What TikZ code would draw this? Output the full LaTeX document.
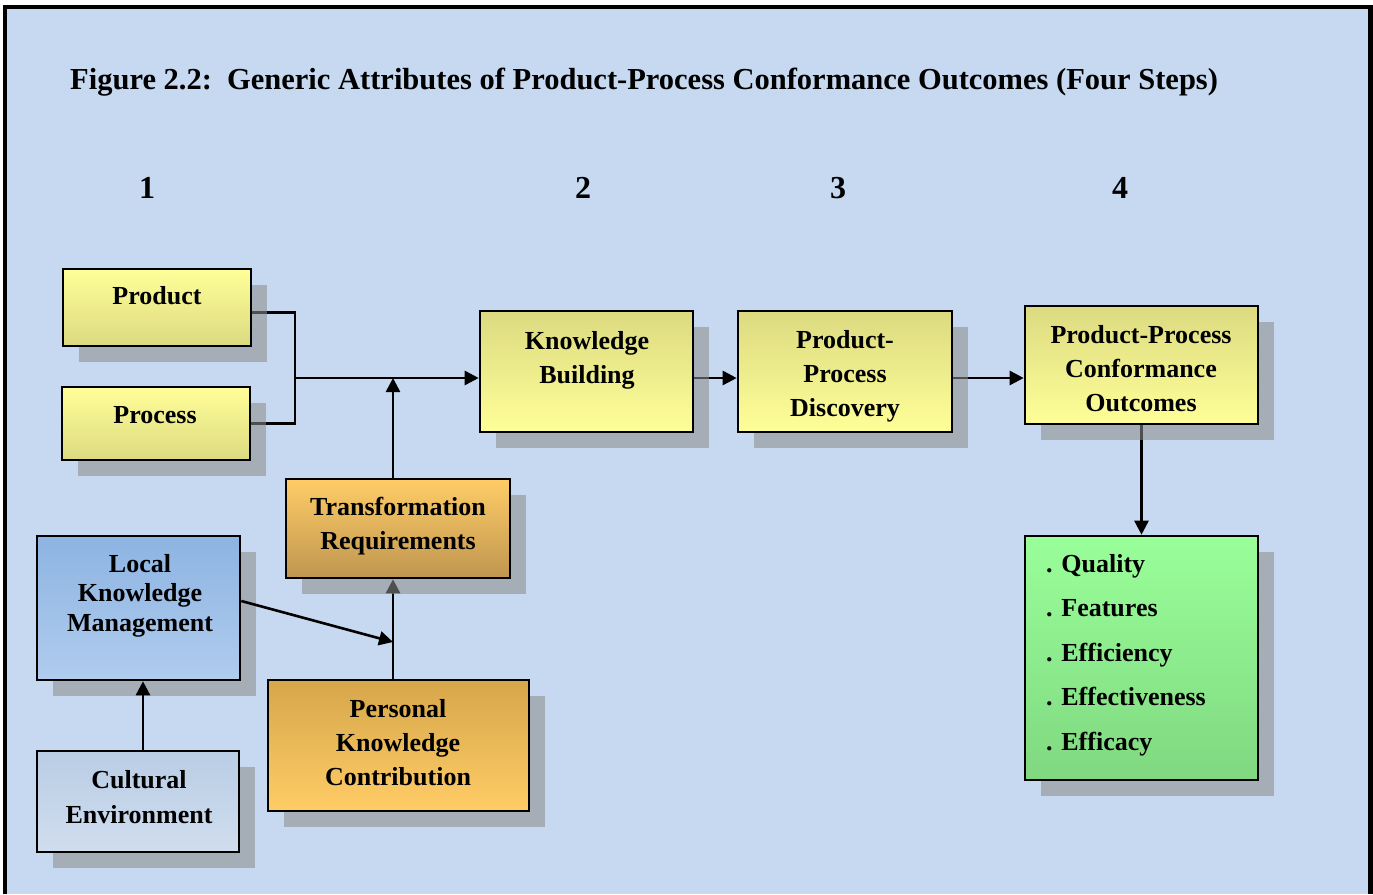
\documentclass[tikz,border=0pt]{standalone}
\usepackage{fontspec}
\setmainfont{Liberation Serif}
\usetikzlibrary{arrows.meta,shadows,fit}

\definecolor{panel}{RGB}{198,217,240}
\definecolor{shadowgray}{RGB}{140,140,140}
\definecolor{ylight}{RGB}{255,255,153}
\definecolor{ydark}{RGB}{220,218,128}
\definecolor{olight}{RGB}{255,204,102}
\definecolor{odarkA}{RGB}{191,150,80}
\definecolor{odarkB}{RGB}{214,166,74}
\definecolor{btop}{RGB}{141,180,226}
\definecolor{bbot}{RGB}{176,204,238}
\definecolor{ctop}{RGB}{185,205,229}
\definecolor{cbot}{RGB}{208,221,238}
\definecolor{gtop}{RGB}{153,255,153}
\definecolor{gbot}{RGB}{128,216,128}

\pgfdeclarelayer{bg}
\pgfdeclarelayer{edges}
\pgfsetlayers{bg,edges,main}

\tikzset{
  box/.style={draw=black, line width=2.6pt, inner sep=0pt, shading=axis,
    drop shadow={shadow xshift=16pt, shadow yshift=-16pt, fill=shadowgray, opacity=0.57}},
  yup/.style={box, top color=ylight, bottom color=ydark},
  ydown/.style={box, top color=ydark, bottom color=ylight},
  txt/.style={font=\bfseries\fontsize{26}{34}\selectfont, inner sep=0pt, anchor=base},
  num/.style={font=\bfseries\fontsize{32}{36}\selectfont, inner sep=0pt, anchor=base},
  link/.style={line width=2.6pt, -{Triangle[length=14pt,width=14pt]}},
  wire/.style={line width=2.6pt},
}

\begin{document}
\begin{tikzpicture}[x=1pt,y=-1pt]
\useasboundingbox (0,0) rectangle (1373,894);

% panel and frame
\begin{pgfonlayer}{bg}
  \fill[white] (0,0) rectangle (1373,894);
  \fill[panel] (5,7) rectangle (1370.5,894);
  \draw[line width=4.5pt] (5,894) -- (5,7) -- (1370.5,7) -- (1370.5,894);
\end{pgfonlayer}

% heading and step numbers
\node[anchor=base west, inner sep=0pt, font=\bfseries\fontsize{30.5}{34}\selectfont] (title) at (70,89)
  {Figure 2.2:\ \ Generic Attributes of Product-Process Conformance Outcomes (Four Steps)};
\node[num] (n1) at (147,198) {1};
\node[num] (n2) at (583,198) {2};
\node[num] (n3) at (838,198) {3};
\node[num] (n4) at (1120,198) {4};

% boxes
\node[yup, fit={(63,269) (251,346)}] (prod) {};
\node[yup, fit={(62,387) (250,460)}] (proc) {};
\node[ydown, fit={(480,311) (693,432)}] (kb) {};
\node[ydown, fit={(738,311) (952,432)}] (ppd) {};
\node[ydown, fit={(1025,306) (1258,424)}] (ppco) {};
\node[box, top color=gtop, bottom color=gbot, fit={(1025,536) (1258,780)}] (attr) {};
\node[box, top color=olight, bottom color=odarkA, fit={(286,479) (510,578)}] (tr) {};
\node[box, top color=odarkB, bottom color=olight, fit={(268,680) (529,811)}] (pkc) {};
\node[box, top color=btop, bottom color=bbot, fit={(37,536) (240,680)}] (lkm) {};
\node[box, top color=ctop, bottom color=cbot, fit={(37,751) (239,852)}] (cult) {};

% box texts
\node[txt] (prodt) at (157,304) {Product};
\node[txt] (proct) at (155,423) {Process};
\node[txt] (kbt) at (587,349) {\begin{tabular}[t]{@{}c@{}}Knowledge\\Building\end{tabular}};
\node[txt] (ppdt) at (845,348) {\begin{tabular}[t]{@{}c@{}}Product-\\Process\\Discovery\end{tabular}};
\node[txt] (ppcot) at (1141,343) {\begin{tabular}[t]{@{}c@{}}Product-Process\\Conformance\\Outcomes\end{tabular}};
\node[txt] (trt) at (398,515) {\begin{tabular}[t]{@{}c@{}}Transformation\\Requirements\end{tabular}};
\node[txt] (pkct) at (398,717) {\begin{tabular}[t]{@{}c@{}}Personal\\Knowledge\\Contribution\end{tabular}};
\node[txt, font=\bfseries\fontsize{26}{29.7}\selectfont] (lkmt) at (140,572) {\begin{tabular}[t]{@{}c@{}}Local\\Knowledge\\Management\end{tabular}};
\node[txt, font=\bfseries\fontsize{26}{35}\selectfont] (cultt) at (139,788) {\begin{tabular}[t]{@{}c@{}}Cultural\\Environment\end{tabular}};
\node[txt, anchor=base west, font=\bfseries\fontsize{26}{44.6}\selectfont] (attrt) at (1046,572)
  {\begin{tabular}[t]{@{}l@{}}. Quality\\. Features\\. Efficiency\\. Effectiveness\\. Efficacy\end{tabular}};

% connectors (most run beneath the box shadows)
\coordinate (join) at (295,378);
\coordinate (rise) at (393,378);
\coordinate (meet) at (393,642);
\coordinate (cul) at (143,0);
\begin{pgfonlayer}{edges}
  \draw[wire] ([yshift=-5pt]prod.east) -| (join);
  \draw[wire] (proc.east) -| (join);
  \draw[link] (join) -- (join -| kb.west);
  \draw[link] (rise |- tr.north) -- (rise);
  \draw[link] (kb.east |- join) -- (ppd.west |- join);
  \draw[link] (ppd.east |- join) -- (ppco.west |- join);
  \draw[link] (ppco.south) -- (attr.north);
  \draw[link] (rise |- pkc.north) -- (rise |- tr.south);
\end{pgfonlayer}
% these two sit above the shadows
\draw[link] ([yshift=7pt]lkm.east) -- (meet);
\draw[link] (cul |- cult.north) -- (cul |- lkm.south);
\end{tikzpicture}
\end{document}
